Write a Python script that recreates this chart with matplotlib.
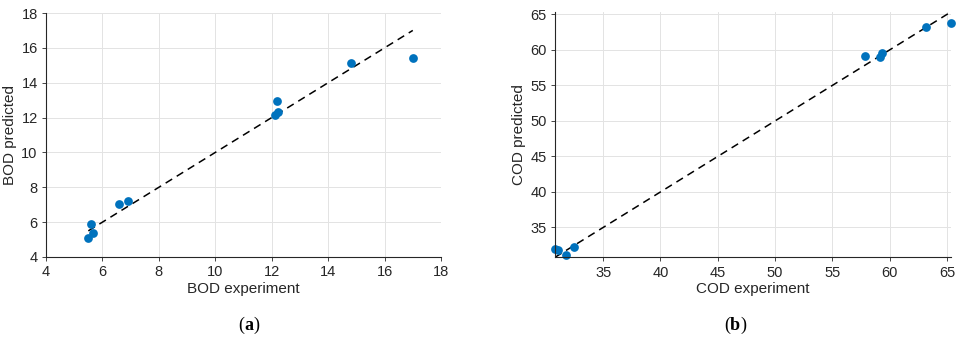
import matplotlib
matplotlib.use("Agg")
import matplotlib.pyplot as plt
import numpy as np

plt.rcParams['font.family'] = ['Liberation Sans', 'DejaVu Sans']

bod_exp = [5.5, 5.6, 5.67, 6.6, 6.9, 12.12, 12.21, 12.19, 14.82, 17.0]
bod_pred = [5.1, 5.88, 5.38, 7.02, 7.21, 12.13, 12.33, 12.97, 15.15, 15.4]
cod_exp = [30.8, 31.07, 31.8, 32.5, 57.8, 59.15, 59.35, 63.2, 65.3]
cod_pred = [32.0, 31.77, 31.16, 32.2, 59.1, 59.0, 59.5, 63.15, 63.8]

bod_ticks = [4, 6, 8, 10, 12, 14, 16, 18]
cod_ticks = [35, 40, 45, 50, 55, 60, 65]

blue = '#0072BD'
axc = '#262626'

fig = plt.figure(figsize=(9.6, 3.42), dpi=100)
ax1 = fig.add_axes([46/960, 1-257/342, (441-46)/960, (257-13)/342])
ax2 = fig.add_axes([555/960, 1-257.3/342, (950.5-555)/960, (257.3-12.2)/342])

def style(ax):
    for s in ['top', 'right']:
        ax.spines[s].set_visible(False)
    for s in ['left', 'bottom']:
        ax.spines[s].set_color(axc)
        ax.spines[s].set_linewidth(0.8)
    ax.grid(True, color='#e3e3e3', linewidth=0.7)
    ax.set_axisbelow(True)
    ax.tick_params(direction='out', length=3, width=0.6, colors=axc,
                   labelsize=10.5, labelcolor=axc, pad=3)

# BOD
lo, hi = min(bod_exp), max(bod_exp)
ax1.plot([lo, hi], [lo, hi], '--', color='black', linewidth=1.1, dashes=(5, 3.5))
ax1.plot(bod_exp, bod_pred, 'o', color=blue, markersize=6.3, markeredgewidth=0)
ax1.set_xlim(4, 18)
ax1.set_ylim(4, 18)
ax1.set_xticks(bod_ticks)
ax1.set_yticks(bod_ticks)
ax1.set_xlabel('BOD experiment', fontsize=11, color=axc, labelpad=2)
ax1.set_ylabel('BOD predicted', fontsize=11, color=axc, labelpad=3)
style(ax1)

# COD
lo, hi = min(cod_exp), max(cod_exp)
ax2.plot([lo, hi], [lo, hi], '--', color='black', linewidth=1.1, dashes=(5, 3.5))
ax2.plot(cod_exp, cod_pred, 'o', color=blue, markersize=6.3, markeredgewidth=0, clip_on=False)
ax2.set_xlim(lo, hi)
ax2.set_ylim(lo, hi)
ax2.set_xticks(cod_ticks)
ax2.set_yticks(cod_ticks)
ax2.set_xlabel('COD experiment', fontsize=11, color=axc, labelpad=2)
ax2.set_ylabel('COD predicted', fontsize=11, color=axc, labelpad=3)
style(ax2)

serif = ['Liberation Serif', 'DejaVu Serif']
for cx, letter in [(244, 'a'), (730, 'b')]:
    fig.text(cx/960, 1-325/342, r'(', fontsize=13, family=serif, ha='right', va='center')
    t = fig.text(cx/960, 1-325/342, letter, fontsize=13, family=serif, fontweight='bold', ha='left', va='center')
    fig.text(cx/960 + (0.0095 if letter == 'a' else 0.0105), 1-325/342, ')', fontsize=13, family=serif, ha='left', va='center')

fig.savefig('out.png', dpi=100)
